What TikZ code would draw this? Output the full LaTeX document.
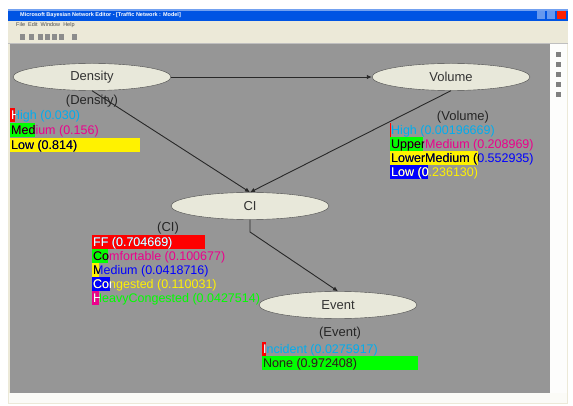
\documentclass[tikz,border=0pt]{standalone}
\usepackage{fontspec}
\setmainfont{Liberation Sans}
\usetikzlibrary{shapes.geometric,arrows.meta}

\definecolor{canvasgray}{RGB}{150,150,150}
\definecolor{nodefill}{RGB}{232,232,218}
\definecolor{xpblue}{RGB}{0,84,227}
\definecolor{xpbeige}{RGB}{236,233,216}
\definecolor{edgegray}{RGB}{40,40,40}

% #1 name, #2 left x, #3 row y, #4 bar length, #5 bar colour,
% #6 text colour, #7 text colour on the bar, #8 text
\newcommand{\statebar}[8]{%
  \fill[#5] (#2,#3-7) rectangle ++(#4,14);
  \node[statetext,text=#6] (#1) at (#2+1,#3+4.6) {#8};
  \begin{scope}
    \clip (#2,#3-7) rectangle ++(#4,14);
    \node[statetext,text=#7] at (#2+1,#3+4.6) {#8};
  \end{scope}}

\begin{document}
\begin{tikzpicture}
      [x=1pt,y=-1pt,
      %%%%%%%%%%%%%%%%%%%%%%%%%%%%%%
      bnnode/.style={ellipse,draw=black!70,fill=nodefill,minimum width=158pt,
        minimum height=27pt,inner sep=0pt,font=\fontsize{13}{13}\selectfont,text=black!80},
      nodelabel/.style={inner sep=0pt,font=\fontsize{13}{13}\selectfont,text=black!85},
      statetext/.style={anchor=base west,inner sep=0pt,font=\fontsize{12.5}{12.5}\selectfont},
      edge/.style={draw=edgegray,line width=0.9pt,-{Latex[length=5pt,width=4.5pt]}},
      smalltext/.style={anchor=west,inner sep=0pt,font=\fontsize{5.5}{5.5}\selectfont},
      ]%%%%%%%%%%%%%%%%%%%%%%%%%%%%%%

      \useasboundingbox (0,0) rectangle (573,406);
      \fill[white] (0,0) rectangle (573,406);

      % window
      \fill[xpbeige] (8,9) rectangle (568,404);
      \fill[xpblue] (8,9) rectangle (568,21);
      \fill[xpblue!55!white] (8,9) rectangle (568,11);
      \node[smalltext,text=white,font=\bfseries\fontsize{5.5}{5.5}\selectfont] (title) at (20,15)
        {Microsoft Bayesian Network Editor - [Traffic Network : Model]};
      \foreach \bx in {537,547} \fill[xpblue!60!white] (\bx,11) rectangle ++(8,8);
      \fill[red!75!orange] (557,11) rectangle ++(9,8);
      \node[smalltext,text=black!70] (menu) at (16,25.5) {File\ \ Edit\ \ Window\ \ Help};
      \foreach \ix in {20,29,38,45,52,59,72} \fill[black!45] (\ix,34) rectangle ++(5,6);
      \draw[black!25] (8,43.5) -- (568,43.5);
      \fill[canvasgray] (10,44) rectangle (550,393);
      \fill[white!92!xpbeige] (550,44) rectangle (567,393);
      \foreach \iy in {52,62,72,82,92} \fill[black!50] (556,\iy) rectangle ++(5,5);
      \fill[white!80!xpbeige] (9,393) rectangle (567,403);

      % nodes
      \node[bnnode] (density) at (92,77) {Density};
      \node[bnnode] (volume) at (451,77) {Volume};
      \node[bnnode] (ci) at (250,206) {CI};
      \node[bnnode] (event) at (338,305) {Event};
      \coordinate (cibend) at (250,232);

      % arcs
      \draw[edge] (density.east) -- (volume.west);
      \draw[edge] (density.south) -- (ci.north);
      \draw[edge] (volume.south) -- (ci.north);
      \draw[edge] (ci.south) -- (cibend) -- (event.north);

      % labels
      \node[nodelabel] (densitylabel) at (92,101) {(Density)};
      \node[nodelabel] (volumelabel) at (463,117) {(Volume)};
      \node[nodelabel] (cilabel) at (168,228) {(CI)};
      \node[nodelabel] (eventlabel) at (340,333) {(Event)};

      % beliefs
      \statebar{dhigh}{10}{115}{5}{red}{cyan}{white}{High (0.030)}
      \statebar{dmed}{10}{130}{25}{green}{magenta}{black}{Medium (0.156)}
      \statebar{dlow}{10}{145}{130}{yellow}{blue}{black}{Low (0.814)}

      \statebar{vhigh}{390}{130}{1}{red}{cyan}{white}{High (0.00196669)}
      \statebar{vupper}{390}{144}{33}{green}{magenta}{black}{UpperMedium (0.208969)}
      \statebar{vlower}{390}{158}{88}{yellow}{blue}{black}{LowerMedium (0.552935)}
      \statebar{vlow}{390}{172}{38}{blue}{yellow}{white}{Low (0.236130)}

      \statebar{cff}{92}{242}{113}{red}{cyan}{white}{FF (0.704669)}
      \statebar{ccomf}{92}{256}{16}{green}{magenta}{black}{Comfortable (0.100677)}
      \statebar{cmed}{92}{270}{7}{yellow}{blue}{black}{Medium (0.0418716)}
      \statebar{ccong}{92}{284}{18}{blue}{yellow}{white}{Congested (0.110031)}
      \statebar{cheavy}{92}{298}{7}{magenta}{green}{white}{HeavyCongested (0.0427514)}

      \statebar{eincident}{262}{349}{4}{red}{cyan}{white}{Incident (0.0275917)}
      \statebar{enone}{262}{363}{156}{green}{magenta}{black!70!green}{None (0.972408)}
    \end{tikzpicture}
\end{document}
